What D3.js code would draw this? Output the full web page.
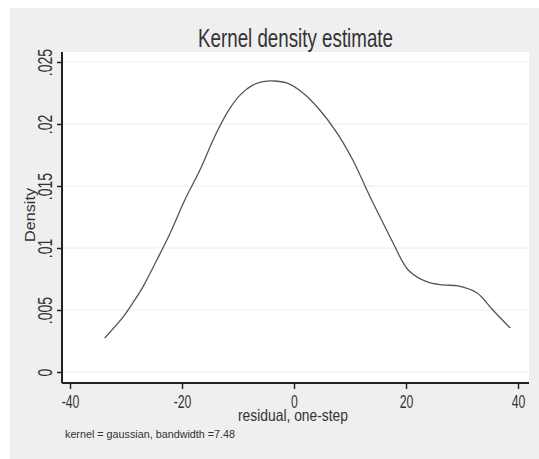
<!DOCTYPE html>
<html>
<head>
<meta charset="utf-8">
<script src="https://cdn.jsdelivr.net/npm/d3@7"></script>
<style>
  body { margin: 0; background: #fff; }
  text { font-family: "Liberation Sans", Arial, sans-serif; fill: #333; }
</style>
</head>
<body>
<div id="graph"></div>
<script>
const width = 539;
const height = 459;

// kernel density of one-step residuals
const residual = [-33.8, -30.5, -28.8, -27.0, -24.5, -22.1, -19.5, -16.8, -15.0, -13.6,
  -11.4, -9.6, -7.3, -5.5, -3.8, -1.3, 1.6, 4.6, 7.7, 10.5, 13.6,
  15.9, 17.7, 20.4, 23.8, 26.6, 29.3, 32.7, 35.5, 38.6];
const density = [0.00274, 0.00444, 0.00556, 0.00685, 0.00903, 0.01121, 0.01387, 0.01629, 0.01815, 0.01952,
  0.02130, 0.02235, 0.02315, 0.02342, 0.02347, 0.02331, 0.0225, 0.02113, 0.01927, 0.0171, 0.01411,
  0.01202, 0.0104, 0.00823, 0.00726, 0.00702, 0.00694, 0.00637, 0.005, 0.00355];
const xTicks = [-40, -20, 0, 20, 40];
const yTicks = [0, 0.005, 0.01, 0.015, 0.02, 0.025];
const yTickLabels = ["0", ".005", ".01", ".015", ".02", ".025"];

const plot = { left: 62, right: 529, top: 52, bottom: 383 };

const xScale = d3.scaleLinear().domain([-40, 40]).range([70, 518]);
const yScale = d3.scaleLinear().domain([0, 0.025]).range([372, 62]);

const svg = d3
  .select("#graph")
  .append("svg")
  .attr("width", width)
  .attr("height", height);

// outer grey panel and white plot region
svg.append("rect")
  .attr("x", 10).attr("y", 8)
  .attr("width", width - 10).attr("height", height - 8)
  .attr("fill", "#efefef");

svg.append("rect")
  .attr("x", plot.left).attr("y", plot.top)
  .attr("width", plot.right - plot.left).attr("height", plot.bottom - plot.top)
  .attr("fill", "#fff");

// squeeze text horizontally like the narrow font in the picture
const squeeze = (sel, k) => sel.each(function() {
  const w = this.getComputedTextLength();
  d3.select(this).attr("textLength", w * k).attr("lengthAdjust", "spacingAndGlyphs");
});

// grid lines
svg.append("g")
  .selectAll("line")
  .data(yTicks)
  .enter()
  .append("line")
  .attr("x1", plot.left)
  .attr("x2", plot.right)
  .attr("y1", d => yScale(d))
  .attr("y2", d => yScale(d))
  .attr("stroke", "#ececec")
  .attr("stroke-width", 1);

const line = d3
  .line()
  .x((d, i) => xScale(residual[i]))
  .y(d => yScale(d))
  .curve(d3.curveCatmullRom.alpha(0.5));

svg.append("path")
  .datum(density)
  .attr("fill", "none")
  .attr("stroke", "#555")
  .attr("stroke-width", 1.3)
  .attr("d", line);

// axes
const xAxis = d3.axisBottom(xScale)
  .tickValues(xTicks)
  .tickSize(6)
  .tickSizeOuter(0)
  .tickFormat(d => String(d));

const xg = svg.append("g")
  .attr("transform", `translate(0,${plot.bottom})`)
  .call(xAxis);
xg.select(".domain")
  .attr("d", `M${plot.left},0H${plot.right}`)
  .attr("stroke", "#222")
  .attr("stroke-width", 2);
xg.selectAll(".tick line").attr("stroke", "#222").attr("stroke-width", 1.5);
xg.selectAll(".tick text")
  .attr("y", 25)
  .attr("dy", 0)
  .style("font-size", "18px")
  .attr("fill", "#333")
  .call(squeeze, 0.68);

const yAxis = d3.axisLeft(yScale)
  .tickValues(yTicks)
  .tickSize(5)
  .tickSizeOuter(0)
  .tickFormat((d, i) => yTickLabels[i]);

const yg = svg.append("g")
  .attr("transform", `translate(${plot.left},0)`)
  .call(yAxis);
yg.select(".domain")
  .attr("d", `M0,${plot.top}V${plot.bottom}`)
  .attr("stroke", "#222")
  .attr("stroke-width", 2);
yg.selectAll(".tick line").attr("stroke", "#222").attr("stroke-width", 1.5);
yg.selectAll(".tick text")
  .attr("x", 0)
  .attr("dy", 0)
  .attr("transform", "translate(-10,0) rotate(-90)")
  .attr("text-anchor", "middle")
  .style("font-size", "20px")
  .attr("fill", "#333")
  .call(squeeze, 0.7);

// titles and notes
svg.append("text")
  .attr("x", 295.5)
  .attr("y", 47)
  .attr("text-anchor", "middle")
  .style("font-size", "25px")
  .attr("fill", "#444")
  .attr("textLength", 195)
  .attr("lengthAdjust", "spacingAndGlyphs")
  .text("Kernel density estimate");

svg.append("text")
  .attr("x", 293)
  .attr("y", 421)
  .attr("text-anchor", "middle")
  .style("font-size", "16.5px")
  .attr("textLength", 110)
  .attr("lengthAdjust", "spacingAndGlyphs")
  .text("residual, one-step");

svg.append("text")
  .attr("transform", "translate(35,215) rotate(-90)")
  .attr("text-anchor", "middle")
  .style("font-size", "14px")
  .attr("textLength", 54)
  .attr("lengthAdjust", "spacingAndGlyphs")
  .text("Density");

svg.append("text")
  .attr("x", 65)
  .attr("y", 438)
  .style("font-size", "11.5px")
  .attr("textLength", 170)
  .attr("lengthAdjust", "spacingAndGlyphs")
  .text("kernel = gaussian, bandwidth =7.48");
</script>
</body>
</html>
